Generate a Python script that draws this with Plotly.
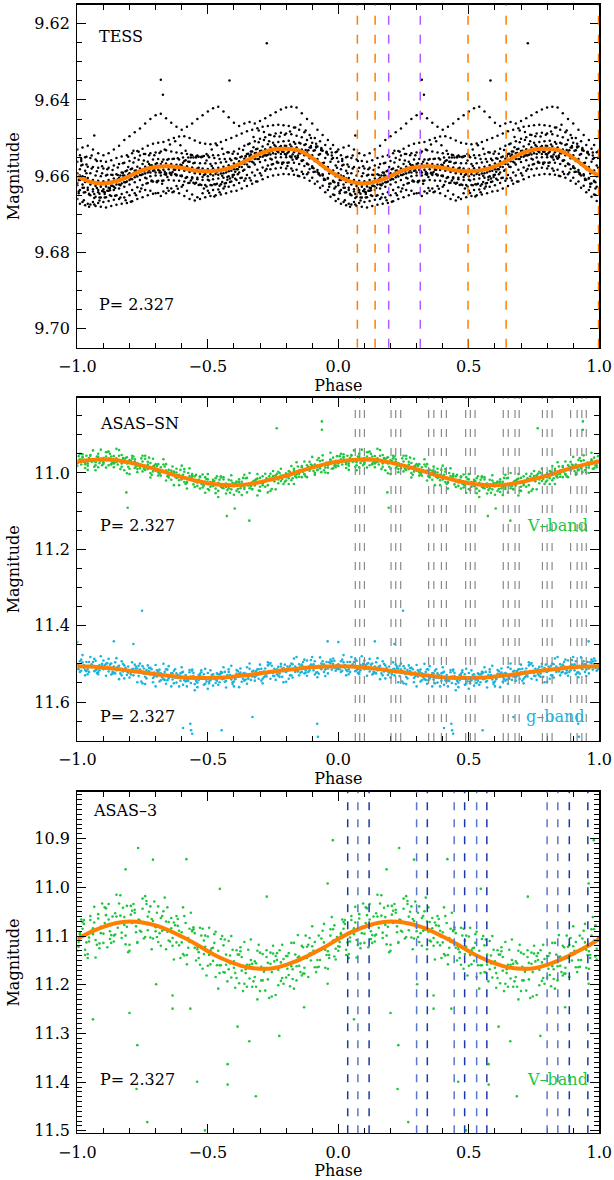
import plotly.graph_objects as go

# ---------------- phase grids (folded phase, one cycle) ----------------
PH_A = [0.00, 0.02, 0.04, 0.06, 0.08, 0.10, 0.12, 0.14, 0.16, 0.18,
        0.20, 0.22, 0.24, 0.26, 0.28, 0.30, 0.32, 0.34, 0.36, 0.38,
        0.40, 0.42, 0.44, 0.46, 0.48, 0.50, 0.52, 0.54, 0.56, 0.58,
        0.60, 0.62, 0.64, 0.66, 0.68, 0.70, 0.72, 0.74, 0.76, 0.78,
        0.80, 0.82, 0.84, 0.86, 0.88, 0.90, 0.92, 0.94, 0.96, 0.98]
PH_B = [0.01, 0.03, 0.05, 0.07, 0.09, 0.11, 0.13, 0.15, 0.17, 0.19,
        0.21, 0.23, 0.25, 0.27, 0.29, 0.31, 0.33, 0.35, 0.37, 0.39,
        0.41, 0.43, 0.45, 0.47, 0.49, 0.51, 0.53, 0.55, 0.57, 0.59,
        0.61, 0.63, 0.65, 0.67, 0.69, 0.71, 0.73, 0.75, 0.77, 0.79,
        0.81, 0.83, 0.85, 0.87, 0.89, 0.91, 0.93, 0.95, 0.97, 0.99]
PH_C = [0.005, 0.025, 0.045, 0.065, 0.085, 0.105, 0.125, 0.145, 0.165, 0.185,
        0.205, 0.225, 0.245, 0.265, 0.285, 0.305, 0.325, 0.345, 0.365, 0.385,
        0.405, 0.425, 0.445, 0.465, 0.485, 0.505, 0.525, 0.545, 0.565, 0.585,
        0.605, 0.625, 0.645, 0.665, 0.685, 0.705, 0.725, 0.745, 0.765, 0.785,
        0.805, 0.825, 0.845, 0.865, 0.885, 0.905, 0.925, 0.945, 0.965, 0.985]
PH_D = [0.015, 0.035, 0.055, 0.075, 0.095, 0.115, 0.135, 0.155, 0.175, 0.195,
        0.215, 0.235, 0.255, 0.275, 0.295, 0.315, 0.335, 0.355, 0.375, 0.395,
        0.415, 0.435, 0.455, 0.475, 0.495, 0.515, 0.535, 0.555, 0.575, 0.595,
        0.615, 0.635, 0.655, 0.675, 0.695, 0.715, 0.735, 0.755, 0.775, 0.795,
        0.815, 0.835, 0.855, 0.875, 0.895, 0.915, 0.935, 0.955, 0.975, 0.995]
PH_FIT = [0.00, 0.05, 0.10, 0.15, 0.20, 0.25, 0.30, 0.35, 0.40, 0.45, 0.50,
          0.55, 0.60, 0.65, 0.70, 0.75, 0.80, 0.85, 0.90, 0.95, 1.00]

# ---------------- fitted curves ----------------
TESS_FIT = [9.6600, 9.6615, 9.6619, 9.6613, 9.6600, 9.6584, 9.6576, 9.6574, 9.6578, 9.6585, 9.6587,
            9.6584, 9.6574, 9.6558, 9.6541, 9.6530, 9.6528, 9.6533, 9.6552, 9.6578, 9.6600]
SN_V_FIT = [10.970, 10.966, 10.965, 10.967, 10.973, 10.981, 10.990, 11.001, 11.011, 11.020, 11.027,
            11.031, 11.032, 11.030, 11.024, 11.016, 11.007, 10.996, 10.986, 10.977, 10.970]
SN_G_FIT = [11.506, 11.507, 11.510, 11.513, 11.518, 11.522, 11.527, 11.531, 11.535, 11.537, 11.537,
            11.536, 11.533, 11.530, 11.525, 11.520, 11.516, 11.512, 11.509, 11.507, 11.506]
A3_FIT = [11.106, 11.092, 11.081, 11.073, 11.070, 11.072, 11.078, 11.088, 11.101, 11.115, 11.131,
          11.145, 11.156, 11.164, 11.167, 11.166, 11.159, 11.149, 11.136, 11.122, 11.106]

# ---------------- TESS photometry (tracks) ----------------
TESS_R01 = [9.6530, 9.6525, 9.6520, 9.6530, 9.6540, 9.6545, 9.6540, 9.6530, 9.6520, 9.6505,
            9.6495, 9.6485, 9.6475, 9.6462, 9.6450, 9.6440, 9.6436, 9.6448, 9.6460, 9.6470,
            9.6478, 9.6470, 9.6462, 9.6450, 9.6440, 9.6430, 9.6422, 9.6418, 9.6430, 9.6445,
            9.6460, 9.6468, 9.6462, 9.6458, 9.6462, 9.6455, 9.6448, 9.6440, 9.6432, 9.6425,
            9.6420, 9.6418, 9.6420, 9.6435, 9.6450, 9.6462, 9.6478, 9.6492, 9.6505, 9.6518]
TESS_R02 = [9.6545, 9.6550, 9.6552, 9.6556, 9.6560, 9.6562, 9.6558, 9.6552, 9.6548, 9.6545,
            9.6540, 9.6534, 9.6528, 9.6520, 9.6515, 9.6512, 9.6510, 9.6505, 9.6500, 9.6496,
            9.6495, 9.6500, 9.6506, 9.6512, 9.6515, 9.6516, 9.6514, 9.6510, 9.6505, 9.6500,
            9.6494, 9.6488, 9.6482, 9.6478, 9.6474, 9.6470, 9.6468, 9.6466, 9.6465, 9.6466,
            9.6468, 9.6472, 9.6478, 9.6485, 9.6492, 9.6500, 9.6508, 9.6518, 9.6528, 9.6537]
TESS_R03 = [9.6562, 9.6570, 9.6575, 9.6576, 9.6578, 9.6580, 9.6578, 9.6572, 9.6568, 9.6565,
            9.6560, 9.6552, 9.6546, 9.6542, 9.6540, 9.6538, 9.6535, 9.6532, 9.6535, 9.6538,
            9.6540, 9.6542, 9.6545, 9.6546, 9.6548, 9.6546, 9.6545, 9.6545, 9.6542, 9.6538,
            9.6535, 9.6528, 9.6520, 9.6514, 9.6508, 9.6502, 9.6498, 9.6492, 9.6488, 9.6486,
            9.6488, 9.6490, 9.6494, 9.6498, 9.6505, 9.6512, 9.6522, 9.6533, 9.6543, 9.6552]
TESS_R04 = [9.6582, 9.6586, 9.6592, 9.6598, 9.6600, 9.6598, 9.6596, 9.6595, 9.6590, 9.6585,
            9.6580, 9.6575, 9.6568, 9.6562, 9.6556, 9.6555, 9.6556, 9.6555, 9.6554, 9.6556,
            9.6560, 9.6562, 9.6565, 9.6566, 9.6566, 9.6568, 9.6566, 9.6564, 9.6562, 9.6558,
            9.6554, 9.6548, 9.6542, 9.6535, 9.6528, 9.6522, 9.6516, 9.6512, 9.6510, 9.6508,
            9.6507, 9.6510, 9.6512, 9.6518, 9.6525, 9.6532, 9.6542, 9.6552, 9.6562, 9.6572]
TESS_R05 = [9.6592, 9.6600, 9.6605, 9.6610, 9.6612, 9.6613, 9.6610, 9.6606, 9.6604, 9.6598,
            9.6592, 9.6586, 9.6580, 9.6575, 9.6572, 9.6568, 9.6568, 9.6567, 9.6568, 9.6570,
            9.6571, 9.6574, 9.6577, 9.6580, 9.6580, 9.6581, 9.6579, 9.6578, 9.6575, 9.6571,
            9.6567, 9.6561, 9.6554, 9.6547, 9.6540, 9.6534, 9.6529, 9.6525, 9.6522, 9.6521,
            9.6521, 9.6522, 9.6525, 9.6530, 9.6538, 9.6545, 9.6555, 9.6566, 9.6576, 9.6585]
TESS_R06 = [9.6610, 9.6615, 9.6622, 9.6626, 9.6628, 9.6627, 9.6625, 9.6622, 9.6619, 9.6614,
            9.6608, 9.6601, 9.6595, 9.6590, 9.6586, 9.6584, 9.6583, 9.6582, 9.6583, 9.6584,
            9.6586, 9.6589, 9.6592, 9.6594, 9.6595, 9.6595, 9.6594, 9.6593, 9.6590, 9.6586,
            9.6582, 9.6576, 9.6569, 9.6562, 9.6555, 9.6549, 9.6544, 9.6540, 9.6537, 9.6536,
            9.6536, 9.6537, 9.6540, 9.6545, 9.6553, 9.6560, 9.6570, 9.6581, 9.6591, 9.6600]
TESS_R07 = [9.6624, 9.6630, 9.6636, 9.6640, 9.6642, 9.6640, 9.6638, 9.6636, 9.6632, 9.6628,
            9.6622, 9.6616, 9.6610, 9.6604, 9.6600, 9.6598, 9.6598, 9.6596, 9.6597, 9.6598,
            9.6600, 9.6603, 9.6606, 9.6608, 9.6610, 9.6609, 9.6608, 9.6606, 9.6604, 9.6600,
            9.6596, 9.6590, 9.6583, 9.6576, 9.6569, 9.6563, 9.6558, 9.6554, 9.6551, 9.6550,
            9.6550, 9.6551, 9.6554, 9.6559, 9.6567, 9.6574, 9.6584, 9.6595, 9.6605, 9.6614]
TESS_R08 = [9.6636, 9.6642, 9.6650, 9.6654, 9.6656, 9.6655, 9.6652, 9.6650, 9.6647, 9.6642,
            9.6636, 9.6629, 9.6623, 9.6618, 9.6614, 9.6612, 9.6611, 9.6610, 9.6611, 9.6612,
            9.6614, 9.6617, 9.6620, 9.6622, 9.6623, 9.6623, 9.6622, 9.6621, 9.6618, 9.6614,
            9.6610, 9.6604, 9.6597, 9.6590, 9.6583, 9.6577, 9.6572, 9.6568, 9.6565, 9.6564,
            9.6564, 9.6565, 9.6568, 9.6573, 9.6581, 9.6588, 9.6598, 9.6609, 9.6619, 9.6628]
TESS_R09 = [9.6660, 9.6668, 9.6672, 9.6668, 9.6670, 9.6668, 9.6665, 9.6662, 9.6660, 9.6656,
            9.6650, 9.6645, 9.6640, 9.6636, 9.6638, 9.6645, 9.6652, 9.6645, 9.6632, 9.6626,
            9.6628, 9.6638, 9.6648, 9.6655, 9.6645, 9.6638, 9.6636, 9.6635, 9.6632, 9.6628,
            9.6624, 9.6618, 9.6612, 9.6605, 9.6598, 9.6592, 9.6586, 9.6582, 9.6580, 9.6578,
            9.6580, 9.6580, 9.6583, 9.6588, 9.6595, 9.6604, 9.6614, 9.6625, 9.6636, 9.6648]
TESS_R10 = [9.6672, 9.6676, 9.6674, 9.6678, 9.6680, 9.6682, 9.6678, 9.6675, 9.6672, 9.6670,
            9.6666, 9.6660, 9.6655, 9.6650, 9.6646, 9.6644, 9.6640, 9.6638, 9.6640, 9.6645,
            9.6652, 9.6660, 9.6664, 9.6660, 9.6655, 9.6652, 9.6650, 9.6648, 9.6645, 9.6640,
            9.6638, 9.6632, 9.6626, 9.6620, 9.6614, 9.6608, 9.6602, 9.6598, 9.6596, 9.6594,
            9.6595, 9.6596, 9.6600, 9.6604, 9.6612, 9.6620, 9.6630, 9.6642, 9.6654, 9.6665]
TESS_R11 = [9.6598, 9.6606, 9.6614, 9.6620, 9.6622, 9.6621, 9.6616, 9.6612, 9.6608, 9.6603,
            9.6597, 9.6590, 9.6584, 9.6579, 9.6576, 9.6575, 9.6576, 9.6576, 9.6578, 9.6580,
            9.6583, 9.6586, 9.6588, 9.6590, 9.6590, 9.6589, 9.6587, 9.6585, 9.6582, 9.6577,
            9.6572, 9.6566, 9.6558, 9.6551, 9.6544, 9.6538, 9.6533, 9.6530, 9.6528, 9.6528,
            9.6529, 9.6531, 9.6535, 9.6541, 9.6549, 9.6557, 9.6567, 9.6578, 9.6588, 9.6596]
TESS_R12 = [9.6618, 9.6622, 9.6630, 9.6634, 9.6636, 9.6634, 9.6630, 9.6628, 9.6622, 9.6616,
            9.6610, 9.6603, 9.6597, 9.6593, 9.6590, 9.6590, 9.6590, 9.6592, 9.6593, 9.6596,
            9.6598, 9.6602, 9.6603, 9.6604, 9.6602, 9.6600, 9.6598, 9.6596, 9.6592, 9.6587,
            9.6582, 9.6575, 9.6568, 9.6561, 9.6555, 9.6549, 9.6545, 9.6543, 9.6542, 9.6542,
            9.6544, 9.6548, 9.6553, 9.6560, 9.6568, 9.6578, 9.6589, 9.6598, 9.6606, 9.6612]
TESS_R13 = [9.6640, 9.6643, 9.6646, 9.6647, 9.6646, 9.6642, 9.6637, 9.6631, 9.6624, 9.6616,
            9.6607, 9.6596, 9.6587, 9.6579, 9.6571, 9.6566, 9.6562, 9.6557, 9.6555, 9.6553,
            9.6551, 9.6551, 9.6551, 9.6549, 9.6547, 9.6550, 9.6552, 9.6555, 9.6555, 9.6554,
            9.6553, 9.6550, 9.6547, 9.6543, 9.6539, 9.6536, 9.6534, 9.6534, 9.6534, 9.6536,
            9.6539, 9.6543, 9.6550, 9.6558, 9.6569, 9.6579, 9.6592, 9.6607, 9.6620, 9.6632]
TESS_R14 = [9.6560, 9.6569, 9.6580, 9.6587, 9.6592, 9.6596, 9.6597, 9.6597, 9.6598, 9.6596,
            9.6593, 9.6590, 9.6587, 9.6585, 9.6585, 9.6586, 9.6588, 9.6591, 9.6595, 9.6599,
            9.6605, 9.6611, 9.6617, 9.6623, 9.6627, 9.6624, 9.6620, 9.6615, 9.6609, 9.6602,
            9.6595, 9.6586, 9.6575, 9.6565, 9.6555, 9.6546, 9.6538, 9.6530, 9.6524, 9.6520,
            9.6517, 9.6515, 9.6514, 9.6516, 9.6521, 9.6525, 9.6532, 9.6539, 9.6546, 9.6552]
TESS_R15 = [9.6610, 9.6630, 9.6648, 9.6657, 9.6656, 9.6647, 9.6631, 9.6613, 9.6598, 9.6587,
            9.6582, 9.6585, 9.6597, 9.6606, 9.6613, 9.6616, 9.6612, 9.6602, 9.6589, 9.6575,
            9.6565, 9.6562, 9.6566, 9.6578, 9.6597, 9.6611, 9.6621, 9.6625, 9.6619, 9.6606,
            9.6588, 9.6567, 9.6548, 9.6535, 9.6529, 9.6533, 9.6546, 9.6556, 9.6564, 9.6568,
            9.6565, 9.6557, 9.6546, 9.6536, 9.6532, 9.6533, 9.6544, 9.6565, 9.6593, 9.6616]
TESS_R16 = [9.6572, 9.6592, 9.6615, 9.6631, 9.6639, 9.6638, 9.6625, 9.6608, 9.6591, 9.6576,
            9.6564, 9.6557, 9.6559, 9.6568, 9.6580, 9.6590, 9.6595, 9.6593, 9.6583, 9.6570,
            9.6558, 9.6551, 9.6548, 9.6550, 9.6559, 9.6573, 9.6588, 9.6599, 9.6602, 9.6597,
            9.6582, 9.6562, 9.6541, 9.6524, 9.6511, 9.6505, 9.6508, 9.6518, 9.6531, 9.6542,
            9.6548, 9.6548, 9.6540, 9.6531, 9.6525, 9.6522, 9.6526, 9.6537, 9.6555, 9.6578]
TESS_R17 = [9.6555, 9.6549, 9.6546, 9.6560, 9.6574, 9.6582, 9.6584, 9.6577, 9.6566, 9.6549,
            9.6533, 9.6536, 9.6542, 9.6545, 9.6545, 9.6539, 9.6530, 9.6517, 9.6508, 9.6519,
            9.6533, 9.6544, 9.6551, 9.6549, 9.6542, 9.6530, 9.6519, 9.6528, 9.6537, 9.6541,
            9.6541, 9.6531, 9.6516, 9.6497, 9.6480, 9.6484, 9.6491, 9.6495, 9.6496, 9.6491,
            9.6483, 9.6472, 9.6465, 9.6480, 9.6500, 9.6515, 9.6529, 9.6536, 9.6538, 9.6535]
TESS_R18 = [9.6645, 9.6663, 9.6680, 9.6674, 9.6664, 9.6656, 9.6650, 9.6651, 9.6656, 9.6663,
            9.6667, 9.6650, 9.6632, 9.6619, 9.6611, 9.6613, 9.6620, 9.6631, 9.6642, 9.6633,
            9.6623, 9.6618, 9.6617, 9.6623, 9.6632, 9.6644, 9.6653, 9.6642, 9.6627, 9.6615,
            9.6607, 9.6605, 9.6606, 9.6611, 9.6614, 9.6598, 9.6581, 9.6569, 9.6562, 9.6565,
            9.6573, 9.6586, 9.6599, 9.6594, 9.6590, 9.6589, 9.6595, 9.6610, 9.6628, 9.6649]
TESS_OUT_PH = [0.065, 0.320, 0.328, 0.583, 0.726]
TESS_OUT_MAG = [9.6493, 9.6347, 9.6386, 9.6349, 9.6251]

# ---------------- ASAS-SN V ----------------
SN_V_R1 = [10.982, 10.960, 10.992, 10.969, 10.950, 10.972, 10.944, 10.985, 10.968, 10.965,
           11.003, 10.964, 10.988, 10.955, 11.000, 10.992, 10.985, 11.020, 11.000, 10.989,
           11.017, 11.041, 11.007, 11.025, 11.004, 11.042, 11.023, 11.063, 11.017, 11.040,
           11.030, 11.050, 11.005, 11.040, 11.020, 11.047, 11.022, 11.002, 11.043, 11.007,
           11.020, 10.982, 11.004, 11.011, 10.980, 10.958, 10.991, 10.978, 11.000, 10.960]
SN_V_R2 = [10.964, 10.987, 10.953, 10.993, 10.963, 10.946, 10.976, 10.937, 10.984, 10.975,
           10.962, 10.998, 10.955, 10.990, 10.983, 11.007, 10.978, 10.992, 11.032, 11.019,
           10.990, 11.018, 11.009, 11.041, 11.011, 11.026, 11.053, 11.012, 11.037, 11.006,
           11.047, 11.023, 11.051, 11.025, 11.059, 11.009, 11.032, 10.995, 11.017, 11.029,
           10.995, 11.029, 10.994, 11.003, 10.971, 11.000, 10.980, 10.999, 10.966, 10.980]
SN_V_R3 = [10.973, 10.951, 10.975, 10.941, 10.985, 10.961, 10.980, 10.956, 10.940, 10.993,
           10.966, 10.987, 10.980, 10.963, 11.012, 10.977, 10.998, 10.977, 11.018, 10.999,
           10.981, 11.024, 11.003, 11.034, 11.030, 11.003, 11.018, 11.047, 11.011, 11.034,
           11.057, 11.017, 11.037, 11.000, 11.022, 11.036, 11.002, 11.047, 11.007, 10.989,
           11.011, 11.019, 10.972, 10.982, 11.011, 10.986, 10.966, 10.954, 10.986, 10.988]
SN_V_R4 = [10.950, 10.974, 10.964, 10.980, 10.939, 10.986, 10.957, 10.971, 10.953, 11.001,
           10.955, 10.974, 10.996, 10.971, 10.963, 10.998, 10.964, 11.012, 10.997, 11.032,
           10.997, 10.988, 11.037, 11.011, 11.052, 11.024, 11.041, 11.009, 11.054, 11.020,
           11.023, 11.058, 11.013, 11.043, 11.003, 11.027, 11.051, 11.011, 10.997, 11.010,
           11.029, 10.994, 11.010, 10.970, 10.994, 11.005, 10.969, 10.986, 10.947, 10.968]
SN_V_R5 = [10.975, 10.958, 10.981, 10.964, 10.958, 10.976, 10.962, 10.975, 10.955, 10.972,
           10.989, 10.970, 10.978, 10.992, 10.974, 10.994, 11.007, 10.994, 10.994, 11.013,
           11.008, 11.026, 11.010, 11.022, 11.038, 11.017, 11.034, 11.026, 11.040, 11.018,
           11.035, 11.024, 11.042, 11.027, 11.033, 11.013, 11.036, 11.015, 11.007, 11.021,
           11.001, 11.005, 11.012, 10.985, 10.991, 10.981, 10.993, 10.967, 10.980, 10.972]
SN_V_R6 = [10.967, 10.977, 10.955, 10.972, 10.968, 10.957, 10.978, 10.962, 10.975, 10.959,
           10.974, 10.990, 10.970, 10.978, 10.996, 10.977, 10.996, 11.007, 10.997, 11.005,
           11.024, 11.008, 11.022, 11.009, 11.023, 11.036, 11.014, 11.036, 11.028, 11.043,
           11.023, 11.035, 11.029, 11.042, 11.015, 11.032, 11.017, 11.008, 11.027, 11.006,
           11.014, 10.989, 11.002, 11.004, 10.988, 10.978, 10.988, 10.980, 10.965, 10.985]
SN_V_R7 = [10.956, 10.970, 10.961, 10.984, 10.974, 10.964, 10.950, 10.972, 10.990, 10.961,
           10.969, 10.983, 10.962, 10.985, 11.005, 10.982, 10.993, 11.009, 10.983, 11.011,
           11.005, 11.000, 11.030, 11.018, 11.033, 11.045, 11.021, 11.018, 11.033, 11.052,
           11.027, 11.040, 11.014, 11.035, 11.017, 11.025, 11.014, 11.042, 11.002, 11.016,
           11.005, 11.014, 10.983, 10.997, 10.984, 10.995, 10.961, 10.993, 10.973, 10.981]
SN_V_R8 = [10.978, 10.955, 10.971, 10.957, 10.980, 10.945, 10.972, 10.978, 10.961, 10.984,
           10.957, 10.981, 10.989, 10.960, 10.981, 11.002, 10.983, 11.002, 11.010, 10.992,
           11.029, 11.014, 11.005, 11.028, 11.016, 11.031, 11.009, 11.039, 11.045, 11.026,
           11.042, 11.013, 11.033, 11.021, 11.046, 11.022, 11.009, 11.022, 11.000, 11.023,
           10.998, 11.009, 10.995, 11.009, 10.978, 10.983, 10.998, 10.973, 10.989, 10.956]
SN_V_OUT_PH = [0.937, 0.937, 0.764, 0.193, 0.573, 0.659, 0.603, 0.188]
SN_V_OUT_MAG = [10.865, 10.887, 10.883, 11.091, 11.113, 11.125, 11.093, 11.051]

# ---------------- ASAS-SN g ----------------
SN_G_R1 = [11.493, 11.530, 11.506, 11.517, 11.480, 11.500, 11.528, 11.517, 11.493, 11.529,
           11.514, 11.548, 11.506, 11.524, 11.548, 11.520, 11.540, 11.506, 11.551, 11.532,
           11.543, 11.522, 11.569, 11.531, 11.552, 11.517, 11.541, 11.525, 11.562, 11.541,
           11.516, 11.529, 11.552, 11.520, 11.529, 11.539, 11.496, 11.531, 11.508, 11.548,
           11.511, 11.514, 11.530, 11.489, 11.517, 11.493, 11.511, 11.532, 11.498, 11.518]
SN_G_R2 = [11.513, 11.496, 11.527, 11.506, 11.522, 11.491, 11.520, 11.507, 11.540, 11.504,
           11.536, 11.522, 11.499, 11.534, 11.510, 11.559, 11.525, 11.552, 11.524, 11.549,
           11.509, 11.542, 11.518, 11.561, 11.536, 11.524, 11.557, 11.527, 11.539, 11.514,
           11.546, 11.561, 11.524, 11.513, 11.544, 11.522, 11.531, 11.498, 11.542, 11.507,
           11.521, 11.530, 11.482, 11.521, 11.491, 11.506, 11.535, 11.493, 11.525, 11.500]
SN_G_R3 = [11.521, 11.516, 11.482, 11.492, 11.508, 11.531, 11.499, 11.485, 11.530, 11.520,
           11.496, 11.512, 11.551, 11.504, 11.537, 11.522, 11.500, 11.538, 11.518, 11.559,
           11.537, 11.516, 11.553, 11.526, 11.513, 11.543, 11.550, 11.521, 11.545, 11.505,
           11.526, 11.547, 11.509, 11.533, 11.514, 11.551, 11.504, 11.523, 11.531, 11.511,
           11.539, 11.486, 11.501, 11.525, 11.506, 11.528, 11.483, 11.515, 11.489, 11.509]
SN_G_R4 = [11.501, 11.477, 11.514, 11.495, 11.527, 11.514, 11.487, 11.523, 11.505, 11.538,
           11.517, 11.502, 11.515, 11.553, 11.528, 11.503, 11.543, 11.514, 11.559, 11.525,
           11.523, 11.559, 11.515, 11.549, 11.534, 11.565, 11.527, 11.555, 11.509, 11.521,
           11.559, 11.526, 11.544, 11.499, 11.535, 11.502, 11.512, 11.539, 11.518, 11.500,
           11.547, 11.499, 11.516, 11.502, 11.531, 11.482, 11.522, 11.504, 11.512, 11.486]
SN_G_R5 = [11.505, 11.510, 11.495, 11.519, 11.503, 11.511, 11.502, 11.525, 11.516, 11.510,
           11.528, 11.512, 11.519, 11.538, 11.514, 11.533, 11.527, 11.543, 11.525, 11.537,
           11.521, 11.545, 11.532, 11.542, 11.527, 11.551, 11.538, 11.528, 11.547, 11.532,
           11.540, 11.523, 11.526, 11.542, 11.531, 11.513, 11.533, 11.521, 11.514, 11.534,
           11.518, 11.501, 11.520, 11.507, 11.521, 11.501, 11.506, 11.521, 11.496, 11.511]
SN_G_R6 = [11.518, 11.495, 11.508, 11.514, 11.500, 11.508, 11.521, 11.515, 11.500, 11.523,
           11.513, 11.532, 11.512, 11.519, 11.533, 11.515, 11.542, 11.530, 11.536, 11.525,
           11.546, 11.533, 11.542, 11.522, 11.546, 11.536, 11.525, 11.540, 11.529, 11.548,
           11.532, 11.526, 11.539, 11.531, 11.514, 11.535, 11.519, 11.513, 11.534, 11.519,
           11.505, 11.521, 11.507, 11.523, 11.502, 11.511, 11.514, 11.495, 11.515, 11.503]
SN_G_R7 = [11.514, 11.503, 11.521, 11.487, 11.517, 11.504, 11.514, 11.496, 11.525, 11.514,
           11.523, 11.507, 11.546, 11.516, 11.526, 11.517, 11.535, 11.515, 11.541, 11.529,
           11.555, 11.538, 11.524, 11.529, 11.555, 11.546, 11.534, 11.548, 11.521, 11.529,
           11.538, 11.512, 11.541, 11.528, 11.519, 11.544, 11.526, 11.505, 11.527, 11.514,
           11.507, 11.536, 11.517, 11.495, 11.509, 11.517, 11.526, 11.501, 11.508, 11.492]
SN_G_R8 = [11.489, 11.519, 11.501, 11.524, 11.505, 11.498, 11.526, 11.508, 11.520, 11.507,
           11.530, 11.505, 11.526, 11.511, 11.523, 11.546, 11.521, 11.534, 11.514, 11.544,
           11.529, 11.550, 11.545, 11.517, 11.541, 11.529, 11.544, 11.523, 11.535, 11.553,
           11.519, 11.539, 11.534, 11.518, 11.539, 11.520, 11.501, 11.532, 11.525, 11.502,
           11.530, 11.507, 11.523, 11.517, 11.490, 11.523, 11.499, 11.511, 11.493, 11.514]
SN_G_OUT_PH = [0.248, 0.436, 0.440, 0.433, 0.553, 0.671, 0.919, 0.922, 0.140, 0.215, 0.959, 0.000, 0.405]
SN_G_OUT_MAG = [11.361, 11.674, 11.683, 11.657, 11.674, 11.639, 11.657, 11.691, 11.441, 11.448, 11.441, 11.443, 11.668]

# ---------------- ASAS-3 V ----------------
A3_R1 = [11.130, 11.085, 11.145, 11.096, 11.055, 11.095, 11.034, 11.111, 11.072, 11.061,
         11.130, 11.046, 11.089, 11.018, 11.103, 11.082, 11.063, 11.127, 11.084, 11.059,
         11.113, 11.158, 11.090, 11.127, 11.085, 11.161, 11.124, 11.208, 11.119, 11.168,
         11.152, 11.197, 11.112, 11.187, 11.152, 11.213, 11.169, 11.134, 11.221, 11.154,
         11.185, 11.114, 11.162, 11.181, 11.122, 11.080, 11.149, 11.123, 11.167, 11.086]
A3_R2 = [11.094, 11.139, 11.067, 11.144, 11.081, 11.043, 11.098, 11.015, 11.104, 11.081,
         11.048, 11.114, 11.023, 11.088, 11.069, 11.112, 11.049, 11.071, 11.148, 11.119,
         11.059, 11.112, 11.094, 11.159, 11.099, 11.129, 11.184, 11.106, 11.159, 11.100,
         11.186, 11.143, 11.204, 11.157, 11.230, 11.137, 11.189, 11.120, 11.169, 11.198,
         11.135, 11.208, 11.142, 11.165, 11.104, 11.164, 11.127, 11.165, 11.099, 11.126]
A3_R3 = [11.112, 11.067, 11.111, 11.040, 11.125, 11.073, 11.106, 11.053, 11.016, 11.117,
         11.056, 11.092, 11.073, 11.034, 11.127, 11.052, 11.089, 11.041, 11.120, 11.079,
         11.041, 11.124, 11.082, 11.145, 11.137, 11.083, 11.114, 11.176, 11.107, 11.156,
         11.206, 11.131, 11.176, 11.107, 11.156, 11.191, 11.129, 11.224, 11.149, 11.118,
         11.167, 11.188, 11.098, 11.123, 11.184, 11.136, 11.099, 11.075, 11.139, 11.142]
A3_R4 = [11.066, 11.113, 11.089, 11.118, 11.033, 11.123, 11.060, 11.083, 11.042, 11.133,
         11.034, 11.066, 11.105, 11.050, 11.029, 11.094, 11.021, 11.111, 11.078, 11.145,
         11.073, 11.052, 11.150, 11.099, 11.181, 11.125, 11.160, 11.100, 11.193, 11.128,
         11.138, 11.213, 11.128, 11.193, 11.118, 11.173, 11.227, 11.152, 11.129, 11.160,
         11.203, 11.138, 11.174, 11.099, 11.150, 11.174, 11.105, 11.139, 11.061, 11.102]
A3_R5 = [11.121, 11.071, 11.137, 11.084, 11.064, 11.114, 11.066, 11.099, 11.033, 11.077,
         11.118, 11.052, 11.068, 11.102, 11.039, 11.090, 11.120, 11.070, 11.063, 11.113,
         11.092, 11.139, 11.088, 11.122, 11.167, 11.101, 11.151, 11.130, 11.174, 11.110,
         11.165, 11.138, 11.198, 11.159, 11.184, 11.134, 11.212, 11.157, 11.141, 11.192,
         11.141, 11.162, 11.191, 11.120, 11.145, 11.121, 11.164, 11.089, 11.131, 11.109]
A3_R6 = [11.097, 11.128, 11.059, 11.108, 11.094, 11.057, 11.114, 11.060, 11.093, 11.038,
         11.073, 11.112, 11.044, 11.060, 11.105, 11.039, 11.087, 11.109, 11.072, 11.089,
         11.140, 11.085, 11.124, 11.083, 11.122, 11.158, 11.091, 11.160, 11.138, 11.185,
         11.129, 11.171, 11.159, 11.204, 11.130, 11.191, 11.155, 11.136, 11.201, 11.147,
         11.180, 11.114, 11.161, 11.177, 11.136, 11.112, 11.149, 11.128, 11.086, 11.148]
A3_R7 = [11.122, 11.075, 11.103, 11.072, 11.115, 11.041, 11.090, 11.097, 11.058, 11.099,
         11.038, 11.080, 11.091, 11.028, 11.065, 11.102, 11.059, 11.091, 11.104, 11.065,
         11.137, 11.104, 11.086, 11.133, 11.109, 11.139, 11.096, 11.160, 11.175, 11.140,
         11.176, 11.123, 11.168, 11.149, 11.204, 11.163, 11.143, 11.174, 11.135, 11.186,
         11.141, 11.168, 11.144, 11.177, 11.118, 11.130, 11.163, 11.113, 11.145, 11.078]
A3_OUT_PH = [0.233, 0.290, 0.418, 0.979, 0.185, 0.546, 0.726, 0.959, 0.060, 0.200, 0.230, 0.227,
             0.268, 0.302, 0.365, 0.365, 0.433, 0.459, 0.489, 0.576, 0.576, 0.614, 0.659, 0.684,
             0.774, 0.869, 0.959]
A3_OUT_MAG = [10.919, 10.943, 10.942, 10.903, 10.963, 11.003, 11.019, 10.992, 11.271, 11.258, 11.324, 11.414,
              11.482, 11.199, 11.222, 11.249, 11.249, 11.399, 11.499, 11.363, 11.405, 11.286, 11.316, 11.429,
              11.305, 11.246, 11.198]

# ---------------- marked phases (vertical dashed lines) ----------------
TESS_ORANGE_PH = [0.073, 0.141, 0.497, 0.643, 0.997]
TESS_PURPLE_PH = [0.193, 0.314]
SN_GRAY_PH = [0.065, 0.082, 0.100, 0.202, 0.220, 0.239, 0.346, 0.366, 0.395, 0.414,
              0.488, 0.506, 0.524, 0.632, 0.651, 0.677, 0.693, 0.782, 0.800, 0.819,
              0.890, 0.915, 0.933, 0.950]
A3_DARK_PH = [0.036, 0.118, 0.341, 0.484, 0.569, 0.885, 0.956]
A3_LIGHT_PH = [0.075, 0.300, 0.444, 0.530, 0.800, 0.841]

PERIOD_TEXT = "P= 2.327"

# ---------------- styling ----------------
FONT = "DejaVu Serif"
ORANGE = "#ff7f00"
PURPLE = "#b25cff"
GREEN = "#1fc63f"
CYAN = "#1ab4dc"
GRAY = "#8a8a8a"
BLUE_D = "#1b3aa8"
BLUE_L = "#5b78c8"

XDOM = [0.1259, 0.9761]
YDOMS = [[0.70534, 0.99602], [0.37203, 0.66297], [0.03958, 0.32907]]


def fold2(ph, mag):
    return [p - 1.0 for p in ph] + list(ph), list(mag) + list(mag)


def fit_xy(fit):
    return [p - 1.0 for p in PH_FIT] + PH_FIT[1:], list(fit) + list(fit[1:])


fig = go.Figure()


def add_points(rows, color, xa, ya, size, name):
    xs, ys = [], []
    for grid, mags in rows:
        x, y = fold2(grid, mags)
        xs += x
        ys += y
    fig.add_trace(go.Scatter(x=xs, y=ys, mode="markers", name=name, xaxis=xa, yaxis=ya,
                             marker=dict(color=color, size=size, line=dict(width=0)),
                             showlegend=False, hoverinfo="skip"))


def add_fit(fit, xa, ya):
    x, y = fit_xy(fit)
    fig.add_trace(go.Scatter(x=x, y=y, mode="lines", xaxis=xa, yaxis=ya,
                             line=dict(color=ORANGE, width=4, shape="spline", smoothing=1.0),
                             showlegend=False, hoverinfo="skip"))


# Panel 1: TESS
add_points([(PH_A, TESS_R01), (PH_B, TESS_R02), (PH_A, TESS_R03), (PH_B, TESS_R04),
            (PH_A, TESS_R05), (PH_B, TESS_R06), (PH_A, TESS_R07), (PH_B, TESS_R08),
            (PH_A, TESS_R09), (PH_B, TESS_R10), (PH_B, TESS_R11), (PH_A, TESS_R12),
            (PH_C, TESS_R13), (PH_D, TESS_R14), (PH_C, TESS_R15), (PH_D, TESS_R16),
            (PH_D, TESS_R17), (PH_C, TESS_R18),
            (TESS_OUT_PH, TESS_OUT_MAG)], "black", "x", "y", 2.5, "TESS")
add_fit(TESS_FIT, "x", "y")

# Panel 2: ASAS-SN V and g
add_points([(PH_A, SN_V_R1), (PH_B, SN_V_R2), (PH_A, SN_V_R3), (PH_B, SN_V_R4),
            (PH_A, SN_V_R5), (PH_B, SN_V_R6), (PH_C, SN_V_R7), (PH_D, SN_V_R8),
            (SN_V_OUT_PH, SN_V_OUT_MAG)], GREEN, "x2", "y2", 2.6, "ASAS-SN V")
add_points([(PH_B, SN_G_R1), (PH_A, SN_G_R2), (PH_B, SN_G_R3), (PH_A, SN_G_R4),
            (PH_C, SN_G_R5), (PH_D, SN_G_R6), (PH_C, SN_G_R7), (PH_D, SN_G_R8),
            (SN_G_OUT_PH, SN_G_OUT_MAG)], CYAN, "x2", "y2", 2.6, "ASAS-SN g")
add_fit(SN_V_FIT, "x2", "y2")
add_fit(SN_G_FIT, "x2", "y2")

# Panel 3: ASAS-3 V
add_points([(PH_A, A3_R1), (PH_B, A3_R2), (PH_C, A3_R3), (PH_D, A3_R4),
            (PH_A, A3_R5), (PH_B, A3_R6), (PH_C, A3_R7),
            (A3_OUT_PH, A3_OUT_MAG)], GREEN, "x3", "y3", 2.6, "ASAS-3 V")
add_fit(A3_FIT, "x3", "y3")

# vertical dashed lines
shapes = []


def vlines(phases, color, xref, yref, width, dash):
    for p in phases:
        shapes.append(dict(type="line", xref=xref, yref=yref + " domain", x0=p, x1=p, y0=0, y1=1,
                           line=dict(color=color, width=width, dash=dash), layer="above"))


vlines(TESS_ORANGE_PH, ORANGE, "x", "y", 1.5, "9px,10px")
vlines(TESS_PURPLE_PH, PURPLE, "x", "y", 1.5, "9px,10px")
vlines(SN_GRAY_PH, GRAY, "x2", "y2", 1.2, "8px,11px")
vlines(A3_DARK_PH, BLUE_D, "x3", "y3", 1.5, "8px,9px")
vlines(A3_LIGHT_PH, BLUE_L, "x3", "y3", 1.5, "8px,9px")

tickfont = dict(family=FONT, size=16, color="black")


def xaxis_cfg(anchor):
    return dict(domain=XDOM, anchor=anchor, range=[-1.0, 1.0], dtick=0.5, tick0=0,
                tickformat=".1f", ticks="inside", ticklen=9, tickwidth=1, tickcolor="black",
                showline=True, linecolor="black", linewidth=1.2, mirror="ticks",
                showgrid=False, zeroline=False, tickfont=tickfont, ticklabelstandoff=4,
                minor=dict(dtick=0.1, ticklen=5, tickwidth=1, ticks="inside", tickcolor="black",
                           showgrid=False),
                title=dict(text="Phase", font=tickfont, standoff=2), automargin=False)


def yaxis_cfg(anchor, dom, rng, dtick, fmt, minor):
    return dict(domain=dom, anchor=anchor, range=rng, dtick=dtick, tick0=0, tickformat=fmt,
                ticks="inside", ticklen=9, tickwidth=1, tickcolor="black",
                showline=True, linecolor="black", linewidth=1.2, mirror="ticks",
                showgrid=False, zeroline=False, tickfont=tickfont, ticklabelstandoff=3,
                minor=dict(dtick=minor, ticklen=5, tickwidth=1, ticks="inside", tickcolor="black",
                           showgrid=False),
                title=dict(text="Magnitude", font=tickfont, standoff=10), automargin=False)


def label(text, xref, yref, x, y, anchor, color="black"):
    return dict(text=text, xref=xref + " domain", yref=yref + " domain", x=x, y=y,
                xanchor=anchor, yanchor="middle", showarrow=False,
                font=dict(family=FONT, size=16, color=color))


annotations = [
    label("TESS", "x", "y", 0.038, 0.908, "left"),
    label(PERIOD_TEXT, "x", "y", 0.038, 0.127, "left"),
    label("ASAS–SN", "x2", "y2", 0.040, 0.925, "left"),
    label(PERIOD_TEXT, "x2", "y2", 0.040, 0.629, "left"),
    label("V–band", "x2", "y2", 0.983, 0.629, "right", GREEN),
    label(PERIOD_TEXT, "x2", "y2", 0.040, 0.071, "left"),
    label("g–band", "x2", "y2", 0.976, 0.071, "right", CYAN),
    label("ASAS–3", "x3", "y3", 0.026, 0.946, "left"),
    label(PERIOD_TEXT, "x3", "y3", 0.040, 0.158, "left"),
    label("V–band", "x3", "y3", 0.983, 0.158, "right", GREEN),
]

fig.update_layout(
    template="none",
    width=614, height=1180,
    margin=dict(l=0, r=0, t=0, b=0),
    paper_bgcolor="white", plot_bgcolor="white",
    showlegend=False,
    xaxis=xaxis_cfg("y"), xaxis2=xaxis_cfg("y2"), xaxis3=xaxis_cfg("y3"),
    yaxis=yaxis_cfg("x", YDOMS[0], [9.705, 9.615], 0.02, ".2f", 0.005),
    yaxis2=yaxis_cfg("x2", YDOMS[1], [11.702, 10.803], 0.2, ".1f", 0.05),
    yaxis3=yaxis_cfg("x3", YDOMS[2], [11.505, 10.8035], 0.1, ".1f", 0.01),
    shapes=shapes,
    annotations=annotations,
)

PAGE_FIX = ("document.body.style.margin='0px';document.body.style.padding='0px';"
            "document.documentElement.style.overflow='hidden';document.body.style.overflow='hidden';")

fig.write_html("out.html", post_script=PAGE_FIX,
               config={"displayModeBar": False, "staticPlot": True})
